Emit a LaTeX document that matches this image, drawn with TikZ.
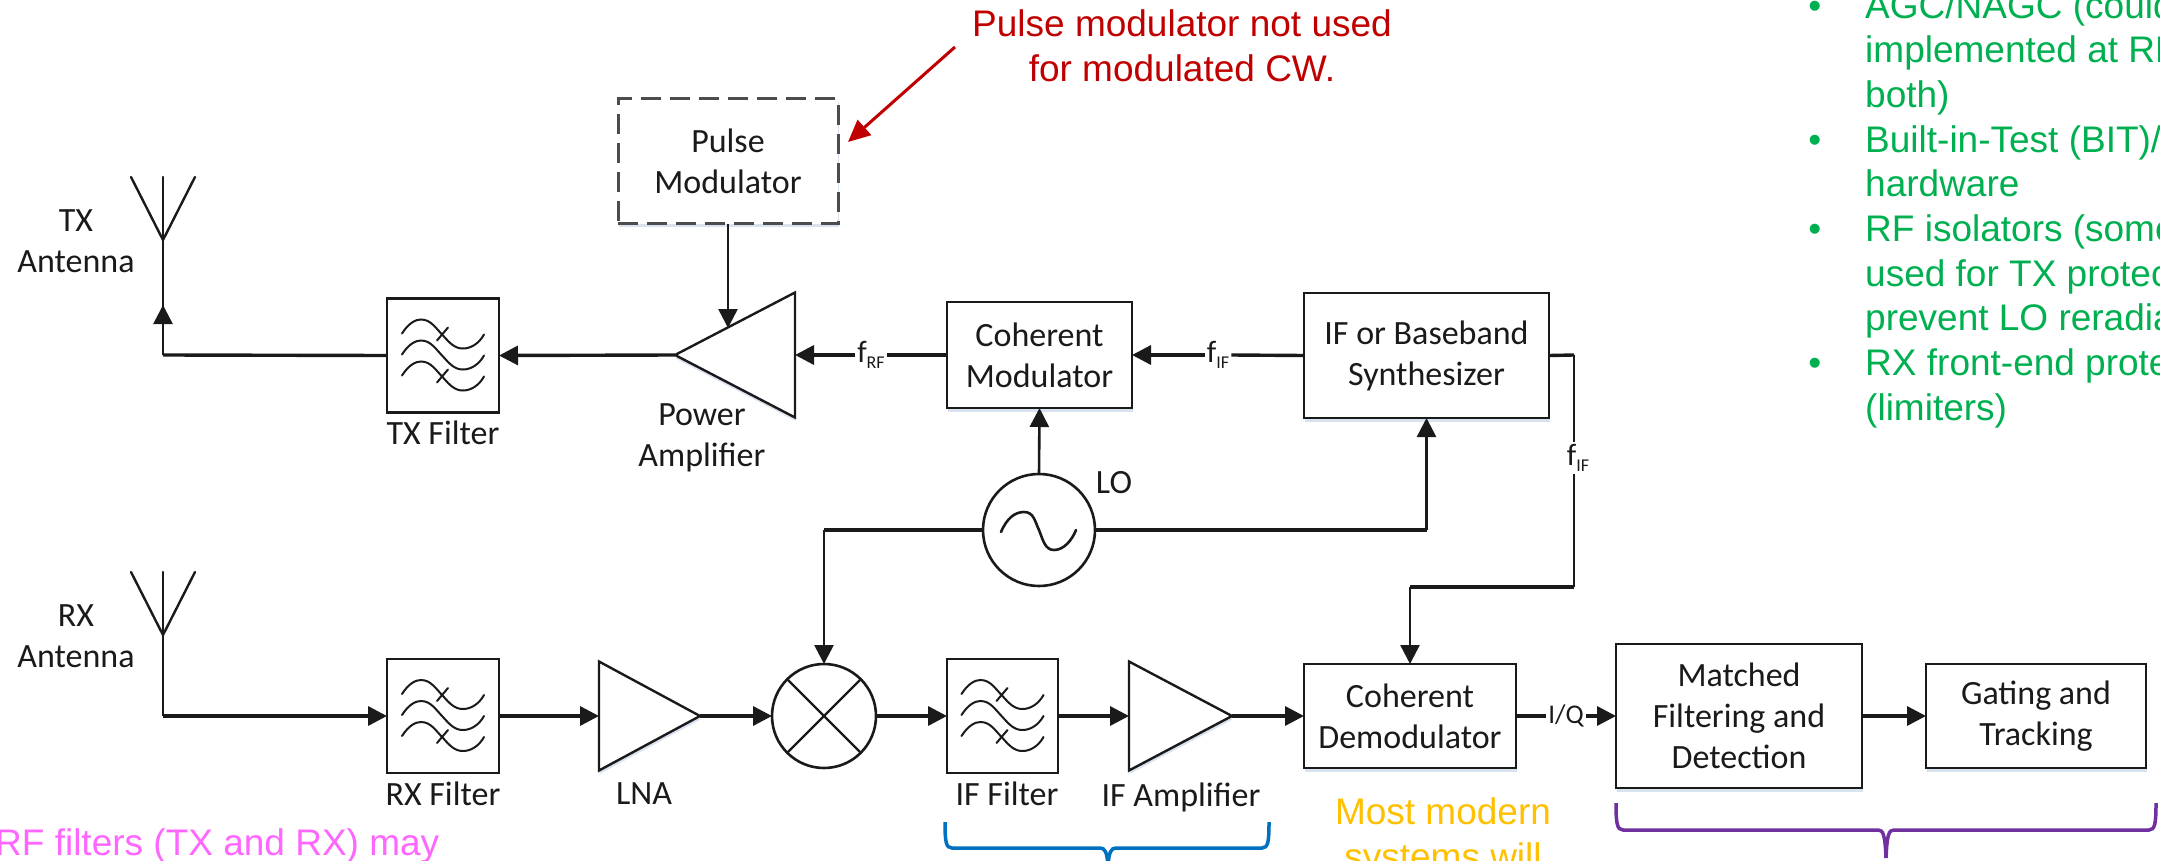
\documentclass[tikz,border=0pt]{standalone}
\usepackage{fontspec}
\setmainfont{Carlito}
\newfontfamily\arialf{Liberation Sans}
\usetikzlibrary{arrows.meta,shapes.geometric,shadows}
\definecolor{ink}{HTML}{1A1A1A}
\definecolor{redn}{HTML}{C00000}
\definecolor{greenn}{HTML}{00B050}
\definecolor{pinkn}{HTML}{FF66FF}
\definecolor{yellown}{HTML}{FFC000}
\definecolor{bluen}{HTML}{0070C0}
\definecolor{purplen}{HTML}{7030A0}
\definecolor{shade}{HTML}{C9D6E8}
\tikzset{
  softshadow/.style={drop shadow={shadow xshift=0.5pt,shadow yshift=-3.5pt,fill=shade,opacity=.7}},
  blockbox/.style={draw=ink,line width=2.6pt,fill=white,rectangle,inner sep=0pt,outer sep=0pt,align=center,text=ink,font=\fontsize{34}{41}\selectfont},
  shadowbox/.style={blockbox,softshadow},
  dashbox/.style={shadowbox,draw=black!70,line width=3pt,dash pattern=on 20pt off 9pt},
  filterbox/.style={draw=ink,line width=2.6pt,fill=white,rectangle,inner sep=0pt,outer sep=0pt,minimum width=112pt,minimum height=114pt},
  amp/.style={draw=ink,line width=2.4pt,fill=white,isosceles triangle,isosceles triangle stretches,inner sep=0pt,outer sep=0pt,softshadow},
  roundel/.style={draw=ink,line width=2.6pt,fill=white,circle,inner sep=0pt,outer sep=0pt},
  lbl/.style={inner sep=0pt,align=center,text=ink,font=\fontsize{34}{41}\selectfont},
  sig/.style={inner sep=2pt,text=ink,font=\fontsize{31}{31}\selectfont},
  hwire/.style={draw=ink,line width=3.4pt},
  vwire/.style={draw=ink,line width=2.6pt},
  tip/.style={-{Triangle[length=19pt,width=19pt]}},
  symbolline/.style={draw=ink,line width=2pt,line cap=round},
  note/.style={inner sep=0pt,font=\arialf\fontsize{37}{45}\selectfont},
}
\newcommand{\wavesym}[1]{%
  \begin{scope}[shift={(#1.center)}]
    \foreach \dy in {0,21,42}{
      \draw[symbolline,yshift=-\dy pt] (-41,-22) .. controls (-34,-33) and (-27,-36) .. (-22,-36)
        .. controls (-12,-36) and (-7,-27) .. (0,-20)
        .. controls (7,-12) and (12,-7) .. (20,-7)
        .. controls (28,-7) and (36,-12) .. (41,-21);
    }
    \draw[symbolline] (-6,-15) -- (5,-28);
    \draw[symbolline] (-6,27) -- (5,14);
  \end{scope}}
\newcommand{\antsym}[1]{%
  \draw[symbolline,line width=2.4pt] (#1) -- ++(-32,-63);
  \draw[symbolline,line width=2.4pt] (#1) -- ++(32,-63);
  \draw[symbolline,line width=2.4pt] (#1) -- ++(0,-63);
}
\begin{document}
\begin{tikzpicture}[x=1pt,y=-1pt]
\path[use as bounding box,clip] (0,0) rectangle (2160,861);

% blocks
\node[dashbox,minimum width=220pt,minimum height=125pt] (pulse) at (728,161.5) {Pulse\\Modulator};
\node[shadowbox,minimum width=185pt,minimum height=106pt] (cmod) at (1039.5,355) {Coherent\\Modulator};
\node[shadowbox,minimum width=245pt,minimum height=125pt] (synth) at (1426.5,355.5) {IF or Baseband\\Synthesizer};
\node[shadowbox,minimum width=212pt,minimum height=104pt] (demod) at (1410,716) {Coherent\\Demodulator};
\node[shadowbox,minimum width=246pt,minimum height=144pt] (match) at (1739,716) {Matched\\Filtering and\\Detection};
\node[shadowbox,minimum width=220pt,minimum height=104pt] (gate) at (2036,716) {Gating and\\Tracking};

\node[filterbox] (txf) at (443,355.5) {};
\node[filterbox] (rxf) at (443,716) {};
\node[filterbox,minimum width=111pt] (iff) at (1002.5,716) {};
\wavesym{txf}\wavesym{rxf}\wavesym{iff}

\node[amp,shape border rotate=180,minimum width=125pt,minimum height=120pt,anchor=apex] (pa) at (675,355) {};
\node[amp,shape border rotate=0,minimum width=109pt,minimum height=101pt,anchor=apex] (lna) at (700,716) {};
\node[amp,shape border rotate=0,minimum width=109pt,minimum height=103pt,anchor=apex] (ifa) at (1232,716) {};

\node[roundel,minimum size=112pt] (lo) at (1039,530) {};
\draw[symbolline,line width=2.6pt] ([shift={(-38,2)}]lo.center) .. controls ([shift={(-32,-12)}]lo.center) and ([shift={(-24,-18)}]lo.center) .. ([shift={(-15,-18)}]lo.center)
  .. controls ([shift={(-5,-18)}]lo.center) and ([shift={(-4,-8)}]lo.center) .. (lo.center)
  .. controls ([shift={(4,10)}]lo.center) and ([shift={(6,20)}]lo.center) .. ([shift={(15,20)}]lo.center)
  .. controls ([shift={(25,20)}]lo.center) and ([shift={(33,10)}]lo.center) .. ([shift={(37,0)}]lo.center);
\node[roundel,minimum size=104pt] (mix) at (824,716) {};
\draw[symbolline,line width=2.4pt] (mix.north west) -- (mix.south east);
\draw[symbolline,line width=2.4pt] (mix.north east) -- (mix.south west);

% antennas
\coordinate (txant) at (163,240);
\coordinate (rxant) at (163,635);
\antsym{txant}
\antsym{rxant}

% labels
\node[lbl] (ltxa) at (76,241) {TX\\Antenna};
\node[lbl] (lrxa) at (76,636) {RX\\Antenna};
\node[lbl] (ltxf) at (443,433) {TX Filter};
\node[lbl] (lpa) at (702,438) {Power\\Amplifier};
\node[lbl] (lrxf) at (443,794) {RX Filter};
\node[lbl] (llna) at (644,794) {LNA};
\node[lbl] (liff) at (1007,794) {IF Filter};
\node[lbl] (lifa) at (1181,797) {IF Amplifier};
\node[lbl] (llo) at (1114,483) {LO};

\node[sig] (frf) at (871,355) {f\raisebox{-6pt}{\fontsize{18}{18}\selectfont RF}};
\node[sig] (fif) at (1218,355) {f\raisebox{-6pt}{\fontsize{18}{18}\selectfont IF}};
\node[sig] (fifd) at (1578,458) {f\raisebox{-6pt}{\fontsize{18}{18}\selectfont IF}};
\node[sig,font=\fontsize{27}{27}\selectfont] (iq) at (1566,716) {I/Q};

% connectors
\coordinate (txc) at (163,355);
\coordinate (rxc) at (163,716);
\coordinate (paside) at (728,328);
\draw[hwire] (txf.west) -- (txc);
\draw[vwire] (txc) -- (txant);
\draw[vwire,tip] (txc) -- (163,305);
\draw[hwire,tip] (pa.apex) -- (txf.east);
\draw[vwire,tip] (pulse.south) -- (paside);
\draw[hwire,tip] (frf.west) -- (pa.lower side);
\draw[hwire] (cmod.west) -- (frf.east);
\draw[hwire,tip] (fif.west) -- (cmod.east);
\draw[hwire] (synth.west) -- (fif.east);
\draw[vwire,tip] (lo.north) -- (cmod.south);
\coordinate (lor) at (lo.east -| synth.south);
\coordinate (lol) at (lo.west -| mix.north);
\draw[hwire] (lo.east) -- (lor);
\draw[vwire,tip] (lor) -- (synth.south);
\draw[hwire] (lo.west) -- (lol);
\draw[vwire,tip] (lol) -- (mix.north);
\coordinate (sc1) at (1574,355);
\coordinate (sc2) at (1574,587);
\coordinate (sc3) at (sc2 -| demod.north);
\draw[hwire] (synth.east) -- (sc1);
\draw[vwire] (sc1) -- (fifd.north -| sc1);
\draw[vwire] (fifd.south -| sc2) -- (sc2);
\draw[hwire] (sc2) -- (sc3);
\draw[vwire,tip] (sc3) -- (demod.north);
\draw[vwire] (rxc) -- (rxant);
\draw[hwire,tip] (rxc) -- (rxf.west);
\draw[hwire,tip] (rxf.east) -- (lna.lower side);
\draw[hwire,tip] (lna.apex) -- (mix.west);
\draw[hwire,tip] (mix.east) -- (iff.west);
\draw[hwire,tip] (iff.east) -- (ifa.lower side);
\draw[hwire,tip] (ifa.apex) -- (demod.west);
\draw[hwire] (demod.east) -- (iq.west);
\draw[hwire,tip] (iq.east) -- (match.west);
\draw[hwire,tip] (match.east) -- (gate.west);

% red note
\node[note,text=redn,align=center] (pnote) at (1182,46) {Pulse modulator not used\\for modulated CW.};
\coordinate (rs) at (955,47);
\coordinate (re) at (848,142);
\draw[redn,line width=3pt,-{Triangle[length=22pt,width=20pt]}] (rs) -- (re);

% green list
\node[note,text=greenn,align=left,anchor=north west,font=\arialf\fontsize{37}{44.7}\selectfont] (glist) at (1865,-9) {%
\llap{•\hspace{44pt}}AGC/NAGC (could\\
implemented at RF\\
both)\\
\llap{•\hspace{44pt}}Built-in-Test (BIT)/\\
hardware\\
\llap{•\hspace{44pt}}RF isolators (some\\
used for TX protec\\
prevent LO reradia\\
\llap{•\hspace{44pt}}RX front-end prote\\
(limiters)};

% cut-off notes
\node[note,text=pinkn,anchor=base west] (pink) at (-5,855) {RF filters (TX and RX) may};
\node[note,text=yellown,align=center] (ynote) at (1443,837) {Most modern\\systems will};

% braces
\draw[bluen,line width=3.5pt] (945,822) .. controls (945,842) and (946,848) .. (952,848) -- (1100,848)
  .. controls (1105,848) and (1107,852) .. (1108,866);
\draw[bluen,line width=3.5pt] (1269,822) .. controls (1269,842) and (1268,848) .. (1262,848) -- (1116,848)
  .. controls (1111,848) and (1109,852) .. (1108,866);
\draw[purplen,line width=3.5pt] (1616,803) .. controls (1616,823) and (1617,830) .. (1623,830) -- (1878,830)
  .. controls (1883,830) and (1885,834) .. (1886,858);
\draw[purplen,line width=3.5pt] (2156,803) .. controls (2156,823) and (2155,830) .. (2149,830) -- (1894,830)
  .. controls (1889,830) and (1887,834) .. (1886,858);
\end{tikzpicture}
\end{document}
